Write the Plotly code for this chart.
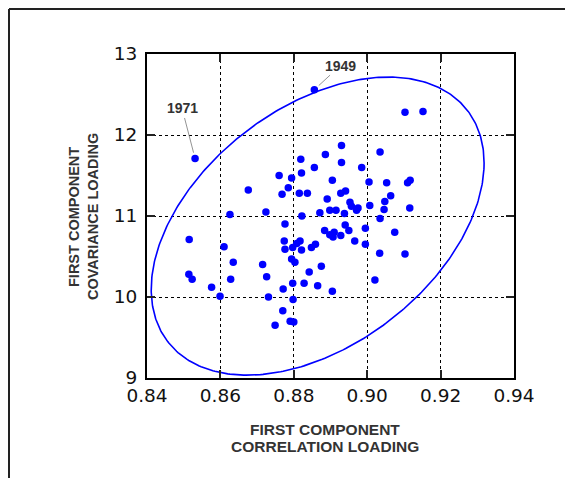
import numpy as np
import plotly.graph_objects as go

# Data
corr_loading = [
    0.8531, 0.8856, 0.9103, 0.9152, 0.8930, 0.8886, 0.9035, 0.8819, 0.8930, 0.8856,
    0.8985, 0.8821, 0.8760, 0.8794, 0.8905, 0.9005, 0.9053, 0.9110, 0.9117, 0.8785,
    0.8676, 0.8941, 0.8768, 0.8815, 0.8837, 0.8928, 0.9064, 0.8891, 0.9048, 0.8953,
    0.8957, 0.9007, 0.8975, 0.8971, 0.9116, 0.9046, 0.8898, 0.8915, 0.8938, 0.8871,
    0.8822, 0.9035, 0.8724, 0.8626, 0.8776, 0.8940, 0.8995, 0.8950, 0.8884, 0.9075,
    0.8910, 0.8898, 0.8928, 0.8907, 0.8966, 0.8995, 0.8774, 0.8817, 0.8808, 0.8859,
    0.8848, 0.8776, 0.8797, 0.8821, 0.9034, 0.9103, 0.8794, 0.8803, 0.8875, 0.8842,
    0.9021, 0.8797, 0.8828, 0.8865, 0.8771, 0.8905, 0.8798, 0.8770, 0.8790, 0.8800,
    0.8749, 0.8515, 0.8610, 0.8635, 0.8715, 0.8514, 0.8523, 0.8628, 0.8726, 0.8576,
    0.8599, 0.8731,
]
cov_loading = [
    11.71, 12.56, 12.28, 12.29, 11.87, 11.76, 11.79, 11.70, 11.66, 11.60,
    11.60, 11.53, 11.50, 11.47, 11.44, 11.42, 11.41, 11.41, 11.44, 11.35,
    11.32, 11.31, 11.27, 11.28, 11.28, 11.28, 11.25, 11.21, 11.18, 11.17,
    11.12, 11.13, 11.10, 11.07, 11.10, 11.08, 11.07, 11.07, 11.03, 11.04,
    11.00, 10.97, 11.05, 11.02, 10.90, 10.89, 10.85, 10.82, 10.82, 10.80,
    10.80, 10.77, 10.76, 10.74, 10.69, 10.65, 10.69, 10.69, 10.66, 10.65,
    10.61, 10.59, 10.61, 10.58, 10.54, 10.53, 10.47, 10.43, 10.38, 10.31,
    10.21, 10.17, 10.17, 10.14, 10.10, 10.07, 9.97, 9.83, 9.70, 9.69,
    9.65, 10.71, 10.62, 10.43, 10.40, 10.28, 10.22, 10.22, 10.25, 10.12,
    10.01, 10.00,
]
labeled_years = ["1971", "1949"]
labeled_x = [0.8531, 0.8856]
labeled_y = [11.71, 12.56]

x_ticks = [0.84, 0.86, 0.88, 0.90, 0.92, 0.94]
x_tick_text = ["0.84", "0.86", "0.88", "0.90", "0.92", "0.94"]
y_ticks = [9, 10, 11, 12, 13]

# Confidence ellipse parameters (centre, half-extents, phase)
ell_cx, ell_cy = 0.8865, 10.875
ell_ax, ell_by = 0.04535, 1.84
ell_phase = 1.133

t = np.linspace(0, 2 * np.pi, 400)
ell_x = ell_cx + ell_ax * np.cos(t)
ell_y = ell_cy + ell_by * np.cos(t - ell_phase)

fig = go.Figure()
fig.add_trace(go.Scatter(x=ell_x, y=ell_y, mode="lines",
                         line=dict(color="#0000FF", width=1.6),
                         hoverinfo="skip", showlegend=False))
fig.add_trace(go.Scatter(x=corr_loading, y=cov_loading, mode="markers",
                         marker=dict(color="#0000FF", size=7.5, line=dict(width=0)),
                         showlegend=False))

# page has an 8px body margin; figure coords = page coords - 8
OFF = 8
W, H = 573, 478
L, T = 147 - OFF, 54 - OFF
R = W - (514 - OFF)
B = H - (378 - OFF)
pw, ph = W - L - R, H - T - B

def px_to_paper(px, py):
    fx, fy = px - OFF, py - OFF
    return (fx - L) / pw, (H - B - fy) / ph

tick_font = dict(family="DejaVu Sans, Liberation Sans, Arial, sans-serif", size=18.5, color="#111")
axis_common = dict(showline=True, linecolor="black", linewidth=2, mirror="ticks",
                   ticks="inside", ticklen=8, tickwidth=2, tickcolor="#222",
                   showgrid=True, gridcolor="black", gridwidth=1.4, griddash="dot",
                   zeroline=False, tickfont=tick_font)

fig.update_xaxes(range=[0.84, 0.94], tickvals=x_ticks, ticktext=x_tick_text, **axis_common)
fig.update_yaxes(range=[9, 13], tickvals=y_ticks, ticklabelstandoff=4, **axis_common)

x_title_font = dict(family="Liberation Sans, Arial, sans-serif", size=15.5, color="#333")
y_title_font = dict(family="Liberation Sans, Arial, sans-serif", size=14.5, color="#333")
annotations = []
for txt, py in [("<b>FIRST COMPONENT</b>", 429), ("<b>CORRELATION LOADING</b>", 446)]:
    xp, yp = px_to_paper(325, py)
    annotations.append(dict(x=xp, y=yp, xref="paper", yref="paper", text=txt,
                            showarrow=False, font=x_title_font, xanchor="center", yanchor="middle"))
for txt, px in [("<b>FIRST COMPONENT</b>", 74), ("<b>COVARIANCE LOADING</b>", 93)]:
    xp, yp = px_to_paper(px, 217)
    annotations.append(dict(x=xp, y=yp, xref="paper", yref="paper", text=txt, textangle=-90,
                            showarrow=False, font=y_title_font, xanchor="center", yanchor="middle"))

offsets = [(-13, -50), (26, -24)]
for yr, lx, ly, (ax, ay) in zip(labeled_years, labeled_x, labeled_y, offsets):
    annotations.append(dict(x=lx, y=ly, xref="x", yref="y", text="<b>%s</b>" % yr,
                            showarrow=True, arrowhead=0, arrowwidth=0.8, arrowcolor="#777",
                            ax=ax, ay=ay, standoff=6,
                            font=dict(family="Liberation Sans, Arial, sans-serif", size=14, color="#333")))

x0, y0 = px_to_paper(9, 9)
x1, _ = px_to_paper(W + 20, 9)
_, yb = px_to_paper(9, H + 20)
shapes = [
    dict(type="line", xref="paper", yref="paper", x0=x0, y0=y0, x1=x1, y1=y0,
         line=dict(color="#222", width=2)),
    dict(type="line", xref="paper", yref="paper", x0=x0, y0=y0, x1=x0, y1=yb,
         line=dict(color="#222", width=2)),
]

fig.update_layout(width=W, height=H, margin=dict(l=L, r=R, t=T, b=B),
                  paper_bgcolor="white", plot_bgcolor="white",
                  annotations=annotations, shapes=shapes, showlegend=False)

fig.write_html("out.html")
